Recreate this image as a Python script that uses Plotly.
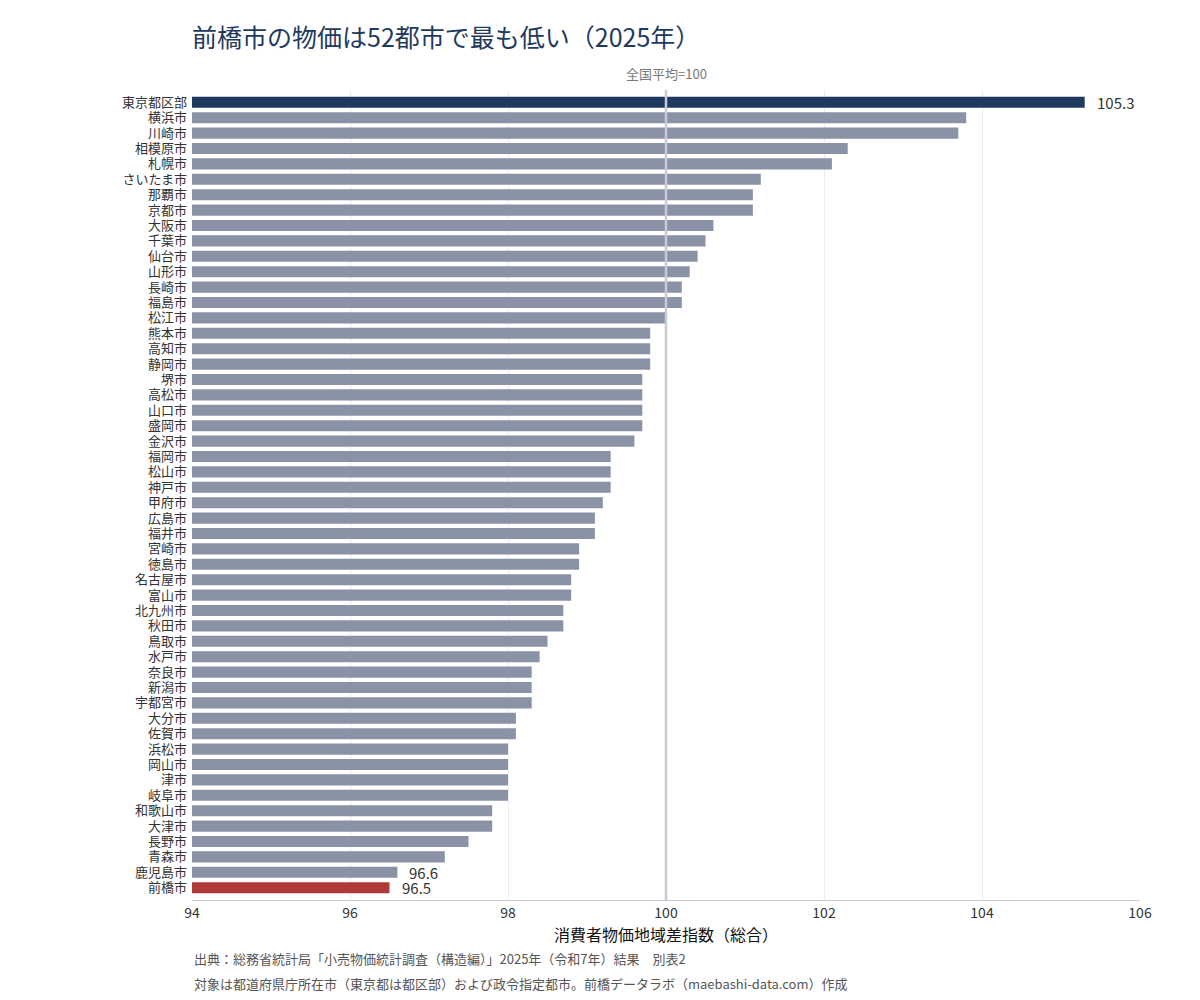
import plotly.graph_objects as go

# 消費者物価地域差指数（総合）2025年、52都市
cities = [
    "東京都区部", "横浜市", "川崎市", "相模原市", "札幌市", "さいたま市", "那覇市", "京都市",
    "大阪市", "千葉市", "仙台市", "山形市", "長崎市", "福島市", "松江市", "熊本市",
    "高知市", "静岡市", "堺市", "高松市", "山口市", "盛岡市", "金沢市", "福岡市",
    "松山市", "神戸市", "甲府市", "広島市", "福井市", "宮崎市", "徳島市", "名古屋市",
    "富山市", "北九州市", "秋田市", "鳥取市", "水戸市", "奈良市", "新潟市", "宇都宮市",
    "大分市", "佐賀市", "浜松市", "岡山市", "津市", "岐阜市", "和歌山市", "大津市",
    "長野市", "青森市", "鹿児島市", "前橋市",
]
index_values = [
    105.3, 103.8, 103.7, 102.3, 102.1, 101.2, 101.1, 101.1,
    100.6, 100.5, 100.4, 100.3, 100.2, 100.2, 100.0, 99.8,
    99.8, 99.8, 99.7, 99.7, 99.7, 99.7, 99.6, 99.3,
    99.3, 99.3, 99.2, 99.1, 99.1, 98.9, 98.9, 98.8,
    98.8, 98.7, 98.7, 98.5, 98.4, 98.3, 98.3, 98.3,
    98.1, 98.1, 98.0, 98.0, 98.0, 98.0, 97.8, 97.8,
    97.5, 97.2, 96.6, 96.5,
]
labelled = ["東京都区部", "鹿児島市", "前橋市"]
x_ticks = [94, 96, 98, 100, 102, 104, 106]

FONT = "Noto Sans CJK JP"
NAVY = "#1f3a5f"
GRAY_BAR = "#8a92a6"
RED = "#b03a3a"

colors = []
for c in cities:
    if c == "東京都区部":
        colors.append(NAVY)
    elif c == "前橋市":
        colors.append(RED)
    else:
        colors.append(GRAY_BAR)

fig = go.Figure()
fig.add_trace(go.Bar(
    x=index_values,
    y=cities,
    orientation="h",
    marker=dict(color=colors, line=dict(width=0)),
    width=0.72,
    hoverinfo="skip",
))

# value labels
for c, v in zip(cities, index_values):
    if c in labelled:
        fig.add_annotation(
            x=v, y=c, text=f"{v:.1f}", showarrow=False,
            xanchor="left", xshift=10,
            font=dict(family=FONT, size=15, color="#333333"),
        )

# 全国平均ライン
fig.add_shape(
    type="line", x0=100, x1=100, y0=0, y1=1, xref="x", yref="paper",
    line=dict(color="#c9cad6", width=2.5), layer="above",
)
fig.add_annotation(
    x=100, y=1, xref="x", yref="paper", text="全国平均=100",
    showarrow=False, yanchor="bottom", yshift=5,
    font=dict(family=FONT, size=13, color="#777777"),
)

# 出典・注記
fig.add_annotation(
    x=0, y=-0.0576, xref="paper", yref="paper", xanchor="left", yanchor="top",
    text="出典：総務省統計局「小売物価統計調査（構造編）」2025年（令和7年）結果　別表2",
    showarrow=False, font=dict(family=FONT, size=13, color="#555555"),
)
fig.add_annotation(
    x=0, y=-0.0883, xref="paper", yref="paper", xanchor="left", yanchor="top",
    text="対象は都道府県庁所在市（東京都は都区部）および政令指定都市。前橋データラボ（maebashi-data.com）作成",
    showarrow=False, font=dict(family=FONT, size=13, color="#555555"),
)

fig.update_layout(
    width=1200, height=1000,
    paper_bgcolor="white", plot_bgcolor="white",
    margin=dict(l=184, r=68, t=82, b=108),
    showlegend=False,
    title=dict(
        text="前橋市の物価は52都市で最も低い（2025年）",
        x=184 / 1200, xanchor="left", y=0.970, yanchor="middle",
        font=dict(family=FONT, size=25, color=NAVY),
    ),
    font=dict(family=FONT, size=13, color="#333333"),
)
fig.update_xaxes(
    range=[94, 106],
    tickvals=x_ticks,
    ticktext=[str(t) for t in x_ticks],
    showgrid=True, gridcolor="#ececf0", gridwidth=1,
    zeroline=False, automargin=False,
    showline=True, linecolor="#c9cad6", linewidth=1,
    ticks="", tickfont=dict(family=FONT, size=14, color="#333333"),
    title=dict(text="消費者物価地域差指数（総合）", standoff=1,
               font=dict(family=FONT, size=16, color="#111111")),
)
fig.update_yaxes(
    tickmode="array", tickvals=cities, ticktext=cities,
    categoryorder="array", categoryarray=cities,
    range=[51.8, -0.8], automargin=False,
    showgrid=False, zeroline=False, ticks="", ticklabelstandoff=4,
    tickfont=dict(family=FONT, size=13, color="#333333"),
)

fig.write_html("out.html")
